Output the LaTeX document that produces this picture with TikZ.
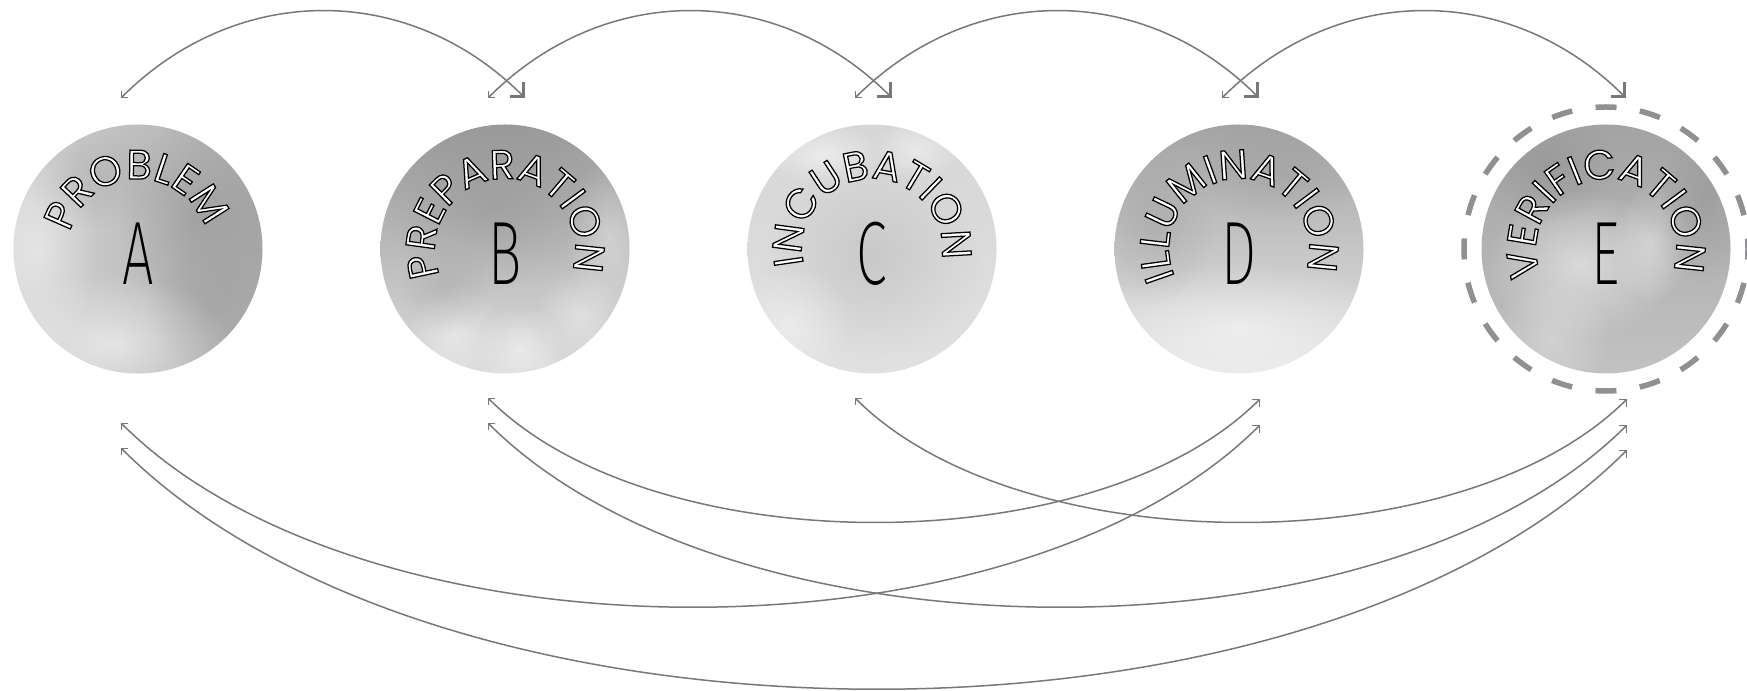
\documentclass[tikz,border=0pt]{standalone}
\usepackage{fontspec}
\usetikzlibrary{arrows.meta,calc,decorations.text,fadings}
\newfontfamily\arcfam{Poppins}
\IfFontExistsTF{Fira Sans ExtraLight}
  {\newfontfamily\bigfam{Fira Sans ExtraLight}[FakeStretch=0.62]}
  {\newfontfamily\bigfam{DejaVu Sans}[FakeStretch=0.6]}
\newcommand\arcfont{\arcfam\fontsize{16.5}{17}\selectfont}
\newcommand\bigfont{\bigfam\fontsize{36}{36}\selectfont}
\newcommand\outl{\color{white}\special{pdf:literal direct 0 G 2 Tr 0.5 w}}
\newcommand\resettr{\special{pdf:literal direct 0 Tr}}
\definecolor{linegray}{gray}{0.47}
\definecolor{ringgray}{RGB}{143,143,148}
\tikzfading[name=softblob, inner color=transparent!0, outer color=transparent!100]
\begin{document}
\begin{tikzpicture}[x=0.4pt,y=0.4pt,
  disc/.style={circle, minimum size=99.6pt, inner sep=0pt, outer sep=0pt},
  letter/.style={anchor=base, inner sep=0pt, font=\bigfont\resettr, text=black},
  blob/.style={path fading=softblob},
  conn/.style={draw=linegray, line width=0.6pt},
  topconn/.style={conn, {Straight Barb[angle=90:2.6pt, line width=0.45pt]}-{Straight Barb[angle=90:5.6pt, line width=1.2pt]}},
  botconn/.style={conn, {Straight Barb[angle=90:2.6pt, line width=0.45pt]}-{Straight Barb[angle=90:2.8pt, line width=0.45pt]}},
  ring/.style={circle, minimum size=113.6pt, inner sep=0pt, outer sep=0pt, draw=ringgray, line width=2.2pt,
    dash pattern=on 8.4pt off 9.444pt, dash phase=4.2pt},
  arctext/.style={decorate, decoration={text along path, text align=center, text={|\arcfont\outl|#1}}}
]
\useasboundingbox (0,0) rectangle (1747,-691);

% ---------- discs ----------
\node[disc, left color=black!16, right color=black!34] (cA) at (138,-249) {};
\node[disc, top color=black!40, bottom color=black!14] (cB) at (505,-249) {};
\node[disc, top color=black!16, bottom color=black!12] (cC) at (872,-249) {};
\node[disc, top color=black!36, bottom color=black!9] (cD) at (1239,-249) {};
\node[disc, top color=black!36, bottom color=black!24] (cE) at (1606,-249) {};

% watercolor texture
\begin{scope}
  \clip (cA) circle (124.5);
  \fill[black!50, opacity=.35, blob] ($(cA)+(60,30)$) ellipse [x radius=80, y radius=100];
  \fill[white, opacity=.55, blob] ($(cA)+(-25,-95)$) ellipse [x radius=120, y radius=70];
  \fill[white, opacity=.4, blob] ($(cA)+(-100,0)$) ellipse [x radius=60, y radius=110];
  \fill[black!40, opacity=.3, blob] ($(cA)+(-40,75)$) ellipse [x radius=80, y radius=55];
  \fill[black!45, opacity=.25, blob] ($(cA)+(70,-60)$) ellipse [x radius=60, y radius=60];
\end{scope}
\begin{scope}
  \clip (cB) circle (124.5);
  \fill[black!50, opacity=.3, blob] ($(cB)+(-10,40)$) ellipse [x radius=110, y radius=80];
  \fill[white, opacity=.45, blob] ($(cB)+(-50,-85)$) circle (50);
  \fill[white, opacity=.5, blob] ($(cB)+(15,-100)$) circle (45);
  \fill[white, opacity=.4, blob] ($(cB)+(75,-65)$) circle (45);
  \fill[white, opacity=.35, blob] ($(cB)+(105,10)$) ellipse [x radius=45, y radius=80];
  \fill[black!45, opacity=.25, blob] ($(cB)+(-60,-40)$) circle (45);
\end{scope}
\begin{scope}
  \clip (cC) circle (124.5);
  \fill[black!35, opacity=.35, blob] ($(cC)+(0,-10)$) ellipse [x radius=110, y radius=100];
  \fill[white, opacity=.5, blob] ($(cC)+(-50,95)$) ellipse [x radius=60, y radius=32];
  \fill[white, opacity=.45, blob] ($(cC)+(45,100)$) ellipse [x radius=45, y radius=30];
  \fill[white, opacity=.4, blob] ($(cC)+(-80,-75)$) circle (60);
\end{scope}
\begin{scope}
  \clip (cD) circle (124.5);
  \fill[white, opacity=.5, blob] ($(cD)+(0,-80)$) ellipse [x radius=170, y radius=65];
  \fill[black!45, opacity=.3, blob] ($(cD)+(-85,20)$) ellipse [x radius=60, y radius=75];
  \fill[black!45, opacity=.25, blob] ($(cD)+(40,75)$) ellipse [x radius=90, y radius=50];
\end{scope}
\begin{scope}
  \clip (cE) circle (124.5);
  \fill[white, opacity=.5, blob] ($(cE)+(-25,-15)$) ellipse [x radius=95, y radius=75];
  \fill[white, opacity=.35, blob] ($(cE)+(45,5)$) ellipse [x radius=40, y radius=60];
  \fill[black!50, opacity=.35, blob] ($(cE)+(-60,80)$) ellipse [x radius=75, y radius=55];
  \fill[black!50, opacity=.3, blob] ($(cE)+(100,50)$) ellipse [x radius=45, y radius=85];
  \fill[white, opacity=.3, blob] ($(cE)+(-55,-90)$) circle (60);
\end{scope}

% dashed ring round E
\node[ring] (ringE) at (cE) {};

% ---------- arc texts ----------
\path[arctext=PROBLEM] ($(cA)+(272:70)$) arc[start angle=272, end angle=-88, radius=70];
\node[letter] (lA) at ($(cA)+(0,-36)$) {A};
\path[arctext=PREPARATION] ($(cB)+(272:70)$) arc[start angle=272, end angle=-88, radius=70];
\node[letter] (lB) at ($(cB)+(0,-36)$) {B};
\path[arctext=INCUBATION] ($(cC)+(272:70)$) arc[start angle=272, end angle=-88, radius=70];
\node[letter] (lC) at ($(cC)+(0,-36)$) {C};
\path[arctext=ILLUMINATION] ($(cD)+(273:70)$) arc[start angle=273, end angle=-87, radius=70];
\node[letter] (lD) at ($(cD)+(0,-36)$) {D};
\path[arctext=VERIFICATION] ($(cE)+(272:70)$) arc[start angle=272, end angle=-88, radius=70];
\node[letter] (lE) at ($(cE)+(0,-36)$) {E};

% ---------- connector end points ----------
\foreach \c in {A,B,C,D,E}{
  \coordinate (t\c l) at ($(c\c)+(-17,151)$);
  \coordinate (t\c r) at ($(c\c)+(20,151)$);
  \coordinate (b\c l1) at ($(c\c)+(-17,-149)$);
  \coordinate (b\c l2) at ($(c\c)+(-17,-174)$);
  \coordinate (b\c l3) at ($(c\c)+(-17,-199)$);
  \coordinate (b\c r1) at ($(c\c)+(21,-150)$);
  \coordinate (b\c r2) at ($(c\c)+(21,-176)$);
  \coordinate (b\c r3) at ($(c\c)+(21,-201)$);
}

% ---------- top connectors ----------
\draw[topconn] (tAl) .. controls +(116,116) and +(-116,116) .. (tBr);
\draw[topconn] (tBl) .. controls +(116,116) and +(-116,116) .. (tCr);
\draw[topconn] (tCl) .. controls +(116,116) and +(-116,116) .. (tDr);
\draw[topconn] (tDl) .. controls +(116,116) and +(-116,116) .. (tEr);

% ---------- bottom connectors ----------
\draw[botconn] (bCl1) .. controls +(165,-165) and +(-165,-165) .. (bEr1);
\draw[botconn] (bBl1) .. controls +(165,-165) and +(-165,-165) .. (bDr1);
\draw[botconn] (bAl2) .. controls +(244,-244) and +(-244,-244) .. (bDr2);
\draw[botconn] (bBl2) .. controls +(244,-244) and +(-244,-244) .. (bEr2);
\draw[botconn] (bAl3) .. controls +(320,-320) and +(-320,-320) .. (bEr3);
\end{tikzpicture}
\end{document}
